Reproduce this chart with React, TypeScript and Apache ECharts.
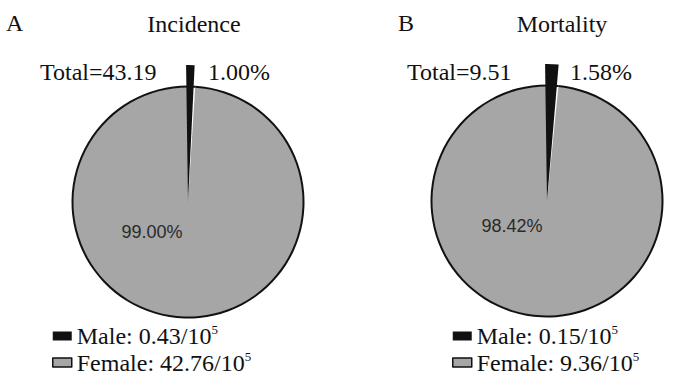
import { useEffect, useRef } from 'react';
import * as echarts from 'echarts';

const categories = ['Male', 'Female'];
const panelLetters = ['A', 'B'];
const panelTitles = ['Incidence', 'Mortality'];
const incidenceRates = [0.43, 42.76];
const mortalityRates = [0.15, 9.36];
const rateUnitBase = '10';
const rateUnitExp = '5';

const SERIF = 'Liberation Serif';
const SANS = 'Liberation Sans';
const GREY = '#a6a6a6';
const BLACK = '#111111';

const layout = [
  { center: [188, 202], letterX: 6, titleX: 194, totalX: 40, pctX: 208, inner: [152, 232], legendLeft: 47 },
  { center: [547, 201], letterX: 398, titleX: 562, totalX: 407, pctX: 570, inner: [512, 226], legendLeft: 447 },
];

export default function App() {
  const ref = useRef<HTMLDivElement>(null);
  useEffect(() => {
    document.body.style.margin = '0';
    if (!ref.current) return;
    const chart = echarts.init(ref.current, undefined, { renderer: 'svg' });
    const allRates = [incidenceRates, mortalityRates];
    const series: any[] = [];
    const graphic: any[] = [];
    const legends: any[] = [];
    allRates.forEach((rates, k) => {
      const L = layout[k];
      const total = rates.reduce((a, b) => a + b, 0);
      const names = categories.map((c, i) => `${c}: ${rates[i].toFixed(2)}/${rateUnitBase}`);
      const pct = rates.map((v) => ((v / total) * 100).toFixed(2) + '%');
      const common = {
        type: 'pie',
        center: L.center,
        clockwise: true,
        silent: true,
        label: { show: false },
        labelLine: { show: false },
        emphasis: { disabled: true },
      };
      series.push({
        ...common,
        radius: [0, 115],
        startAngle: 90,
        data: rates.map((v, i) => ({ name: names[i], value: v, itemStyle: { color: i === 0 ? '#ffffff' : GREY, borderWidth: 0 } })),
      });
      series.push({
        ...common,
        radius: [114.5, 116.5],
        startAngle: 90,
        data: rates.map((v, i) => ({ name: names[i], value: v, itemStyle: { color: BLACK, borderWidth: 0 } })),
      });
      series.push({
        ...common,
        radius: [0, 137],
        startAngle: 90.8,
        z: 5,
        data: rates.map((v, i) => ({ name: names[i], value: v, itemStyle: { color: i === 0 ? BLACK : 'rgba(0,0,0,0)', borderWidth: 0 } })),
      });
      graphic.push(
        { type: 'text', left: L.letterX, top: 11, style: { text: panelLetters[k], fontFamily: SERIF, fontSize: 24, fill: BLACK } },
        { type: 'text', x: L.titleX, y: 24, style: { text: panelTitles[k], fontFamily: SERIF, fontSize: 24, fill: BLACK, align: 'center', verticalAlign: 'middle' } },
        { type: 'text', x: L.totalX, y: 71.5, style: { text: `Total=${total.toFixed(2)}`, fontFamily: SERIF, fontSize: 24, fill: BLACK, align: 'left', verticalAlign: 'middle' } },
        { type: 'text', x: L.pctX, y: 71.5, style: { text: pct[0], fontFamily: SERIF, fontSize: 24, fill: BLACK, align: 'left', verticalAlign: 'middle' } },
        { type: 'text', x: L.inner[0], y: L.inner[1], z: 10, style: { text: pct[1], fontFamily: SANS, fontSize: 18, fill: '#2a2a2a', align: 'center', verticalAlign: 'middle' } },
      );
      legends.push({
        orient: 'vertical',
        left: L.legendLeft,
        top: 318,
        itemWidth: 19,
        itemHeight: 9,
        itemGap: 1.5,
        selectedMode: false,
        icon: 'rect',
        data: names.map((n, i) => ({
          name: n,
          itemStyle: { color: i === 0 ? BLACK : GREY, borderColor: BLACK, borderWidth: i === 0 ? 0 : 1.5 },
        })),
        formatter: (name: string) => `{t|${name}}{s|${rateUnitExp}}`,
        textStyle: {
          fontFamily: SERIF,
          fontSize: 24,
          color: BLACK,
          rich: {
            t: { fontFamily: SERIF, fontSize: 24, lineHeight: 26, color: BLACK },
            s: { fontFamily: SERIF, fontSize: 13, lineHeight: 14, verticalAlign: 'top', color: BLACK },
          },
        },
      });
    });
    chart.setOption({
      animation: false,
      backgroundColor: '#ffffff',
      textStyle: { fontFamily: SERIF },
      legend: legends,
      series,
      graphic,
    });
    return () => chart.dispose();
  }, []);
  return <div ref={ref} style={{ width: 700, height: 390 }} />;
}
